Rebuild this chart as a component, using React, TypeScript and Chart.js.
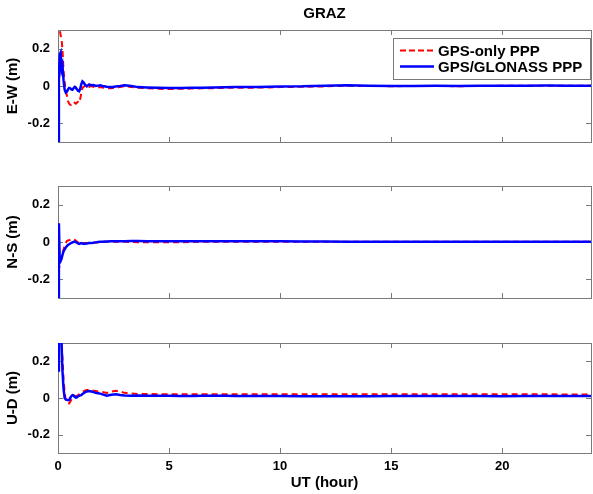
import React, { useEffect, useRef } from "react";
import { Chart, registerables } from "chart.js";

Chart.register(...registerables);

// ---------- data ----------
const T = [
  0, 0.04, 0.08, 0.12, 0.16, 0.2, 0.25, 0.3, 0.35, 0.4, 0.45, 0.5, 0.55, 0.6, 0.65, 0.7, 0.75, 0.8, 0.85, 0.9,
  0.95, 1.0, 1.05, 1.1, 1.15, 1.2, 1.3, 1.4, 1.5, 1.6, 1.7, 1.8, 1.9, 2.0, 2.2, 2.4, 2.6, 2.8, 3.0, 3.3,
  3.6, 4.0, 4.5, 5, 5.5, 6, 6.5, 7, 7.5, 8, 8.5, 9, 9.5, 10, 11, 12, 13, 14, 15, 16,
  17, 18, 19, 20, 21, 22, 23, 24,
];

const ewGps = [
  0.4, 0.35, 0.3, 0.27, 0.25, 0.2, 0.08, 0.02, -0.03, -0.05, -0.08, -0.095, -0.1, -0.1, -0.095, -0.1, -0.09, -0.095, -0.09, -0.085,
  -0.09, -0.07, -0.035, -0.01, -0.005, 0.0, 0.005, -0.005, 0.0, -0.005, -0.01, -0.008, -0.005, -0.008, -0.012, -0.012, -0.008, -0.005, 0.0, -0.005,
  -0.01, -0.012, -0.015, -0.016, -0.015, -0.014, -0.012, -0.012, -0.01, -0.01, -0.01, -0.008, -0.008, -0.006, -0.004, -0.002, 0.002, 0.0, -0.001, 0.0,
  0.0, -0.001, 0.0, 0.001, 0.002, 0.002, 0.001, 0.001,
];
const ewGlo = [
  -0.5, 0.05, 0.17, 0.18, 0.09, 0.11, 0.03, -0.02, -0.035, -0.03, -0.018, -0.01, -0.012, -0.018, -0.02, -0.012, -0.005, -0.008, -0.018, -0.025,
  -0.028, -0.015, 0.01, 0.025, 0.02, 0.01, -0.002, 0.008, 0.004, 0.005, 0.0, 0.002, 0.004, 0.0, -0.004, -0.006, -0.003, 0.0, 0.004, 0.0,
  -0.006, -0.008, -0.01, -0.011, -0.011, -0.01, -0.009, -0.008, -0.007, -0.006, -0.006, -0.005, -0.004, -0.003, -0.002, 0.002, 0.004, 0.001, 0.0, 0.0,
  0.001, 0.0, 0.001, 0.002, 0.002, 0.003, 0.002, 0.002,
];

const nsGps = [
  -0.12, -0.14, -0.13, -0.1, -0.08, -0.06, -0.04, -0.02, -0.005, 0.005, 0.008, 0.01, 0.012, 0.015, 0.016, 0.015, 0.012, 0.008, 0.002, -0.002,
  -0.004, -0.005, -0.005, -0.005, -0.005, -0.005, -0.006, -0.005, -0.005, -0.004, -0.003, -0.002, 0.0, 0.001, 0.002, 0.002, 0.002, 0.002, 0.001, 0.0,
  -0.001, -0.002, -0.002, -0.002, -0.001, 0.0, 0.001, 0.001, 0.001, 0.001, 0.001, 0.001, 0.002, 0.002, 0.002, 0.001, 0.001, 0.001, 0.001, 0.001,
  0.001, 0.001, 0.001, 0.001, 0.001, 0.001, 0.001, 0.001,
];
const nsGlo = [
  -0.5, 0.1, -0.11, -0.1, -0.09, -0.07, -0.05, -0.04, -0.03, -0.022, -0.016, -0.012, -0.008, -0.005, -0.002, 0.0, 0.002, 0.0, -0.004, -0.008,
  -0.01, -0.008, -0.006, -0.008, -0.01, -0.01, -0.008, -0.006, -0.006, -0.004, -0.002, 0.0, 0.001, 0.002, 0.003, 0.004, 0.004, 0.004, 0.004, 0.005,
  0.005, 0.004, 0.004, 0.004, 0.004, 0.004, 0.004, 0.004, 0.004, 0.004, 0.004, 0.004, 0.004, 0.004, 0.003, 0.003, 0.002, 0.002, 0.002, 0.002,
  0.002, 0.002, 0.002, 0.002, 0.002, 0.002, 0.002, 0.002,
];

const udGps = [
  0.45, 0.45, 0.42, 0.38, 0.32, 0.22, 0.1, 0.03, -0.01, -0.02, -0.03, -0.03, -0.02, -0.01, 0.0, 0.008, 0.01, 0.01, 0.012, 0.015,
  0.02, 0.024, 0.028, 0.032, 0.036, 0.04, 0.044, 0.045, 0.042, 0.04, 0.038, 0.036, 0.035, 0.033, 0.028, 0.035, 0.04, 0.035, 0.028, 0.024,
  0.022, 0.022, 0.021, 0.02, 0.021, 0.02, 0.02, 0.021, 0.02, 0.02, 0.021, 0.02, 0.02, 0.02, 0.02, 0.021, 0.02, 0.02, 0.021, 0.02,
  0.021, 0.02, 0.02, 0.021, 0.02, 0.02, 0.019, 0.019,
];
const udGlo = [
  0.15, 0.4, 0.45, 0.4, 0.3, 0.15, 0.05, 0.0, -0.008, -0.01, -0.012, -0.01, 0.0, 0.01, 0.016, 0.014, 0.006, 0.002, 0.004, 0.008,
  0.012, 0.014, 0.016, 0.022, 0.026, 0.03, 0.036, 0.038, 0.035, 0.032, 0.028, 0.026, 0.024, 0.02, 0.012, 0.018, 0.02, 0.016, 0.014, 0.012,
  0.013, 0.012, 0.012, 0.012, 0.011, 0.011, 0.012, 0.012, 0.012, 0.011, 0.011, 0.011, 0.011, 0.011, 0.01, 0.01, 0.01, 0.01, 0.011, 0.011,
  0.011, 0.011, 0.011, 0.01, 0.011, 0.011, 0.011, 0.011,
];

const xTicks = [0, 5, 10, 15, 20];
const yTicks = [-0.2, 0, 0.2];
const seriesNames = ["GPS-only PPP", "GPS/GLONASS PPP"];
const titleText = "GRAZ";
const xTitle = "UT (hour)";

// ---------- styling ----------
const FONT = '"Liberation Sans", Arial, Helvetica, sans-serif';
const RED = "#ff0000";
const BLUE = "#0000ff";
const FRAME = "#7a7a7a";
const W = 593;

const framePlugin = {
  id: "matlabFrame",
  beforeDatasetsDraw(chart: any) {
    const { ctx, chartArea: a, scales } = chart;
    ctx.save();
    ctx.strokeStyle = FRAME;
    ctx.lineWidth = 1;
    ctx.strokeRect(Math.round(a.left) + 0.5, Math.round(a.top) + 0.5, Math.round(a.right - a.left), Math.round(a.bottom - a.top));
    const tl = 5;
    ctx.beginPath();
    for (const v of xTicks) {
      const x = Math.round(scales.x.getPixelForValue(v)) + 0.5;
      ctx.moveTo(x, a.bottom);
      ctx.lineTo(x, a.bottom - tl);
      ctx.moveTo(x, a.top);
      ctx.lineTo(x, a.top + tl);
    }
    for (const v of yTicks) {
      const y = Math.round(scales.y.getPixelForValue(v)) + 0.5;
      ctx.moveTo(a.left, y);
      ctx.lineTo(a.left + tl, y);
      ctx.moveTo(a.right, y);
      ctx.lineTo(a.right - tl, y);
    }
    ctx.stroke();
    ctx.restore();
  },
};

const legendPlugin = {
  id: "matlabLegend",
  afterDatasetsDraw(chart: any) {
    if (!chart.options.plugins.matlabLegend?.show) return;
    const { ctx, chartArea: a } = chart;
    const right = Math.round(a.right) - 1;
    const left = right - 197;
    const top = Math.round(a.top) + 8;
    const h = 41;
    ctx.save();
    ctx.fillStyle = "#fff";
    ctx.fillRect(left, top, right - left, h);
    ctx.strokeStyle = FRAME;
    ctx.lineWidth = 1;
    ctx.strokeRect(left + 0.5, top + 0.5, right - left, h);
    const rows = [
      { y: top + 12.5, color: RED, dash: [6, 3], lw: 2 },
      { y: top + 28.5, color: BLUE, dash: [], lw: 2.5 },
    ];
    ctx.font = `bold 15px ${FONT}`;
    ctx.textBaseline = "middle";
    ctx.textAlign = "left";
    rows.forEach((r, i) => {
      ctx.beginPath();
      ctx.setLineDash(r.dash);
      ctx.strokeStyle = r.color;
      ctx.lineWidth = r.lw;
      ctx.moveTo(left + 7, r.y);
      ctx.lineTo(left + 41, r.y);
      ctx.stroke();
      ctx.setLineDash([]);
      ctx.fillStyle = "#000";
      ctx.fillText(seriesNames[i], left + 45, r.y + 1);
    });
    ctx.restore();
  },
};

type PanelProps = {
  top: number;
  height: number;
  padTop: number;
  padBottom: number;
  gps: number[];
  glo: number[];
  ylabel: string;
  first?: boolean;
  last?: boolean;
};

function Panel({ top, height, padTop, padBottom, gps, glo, ylabel, first, last }: PanelProps) {
  const ref = useRef<HTMLCanvasElement>(null);
  useEffect(() => {
    if (!ref.current) return;
    const tickFont = { family: FONT, size: 13, weight: "bold" as const };
    const titleFont = { family: FONT, size: 15, weight: "bold" as const };
    const chart = new Chart(ref.current, {
      type: "line",
      data: {
        datasets: [
          {
            label: seriesNames[0],
            data: T.map((t, i) => ({ x: t, y: gps[i] })),
            borderColor: RED,
            backgroundColor: RED,
            borderWidth: 2,
            borderDash: [6, 4],
            pointRadius: 0,
            tension: 0,
            fill: false,
            clip: 0,
            order: 1,
          },
          {
            label: seriesNames[1],
            data: T.map((t, i) => ({ x: t, y: glo[i] })),
            borderColor: BLUE,
            backgroundColor: BLUE,
            borderWidth: 2.5,
            pointRadius: 0,
            tension: 0,
            fill: false,
            clip: 0,
            order: 0,
          },
        ],
      },
      options: {
        animation: false,
        responsive: false,
        maintainAspectRatio: false,
        events: [],
        layout: { padding: { left: 0, right: 2, top: padTop, bottom: padBottom } },
        plugins: {
          legend: { display: false },
          tooltip: { enabled: false },
          title: first
            ? {
                display: true,
                text: titleText,
                fullSize: false,
                color: "#000",
                font: titleFont,
                padding: { top: 5, bottom: 7 },
              }
            : { display: false },
          // @ts-ignore
          matlabLegend: { show: !!first },
        },
        scales: {
          x: {
            type: "linear",
            min: 0,
            max: 24,
            display: !!last,
            afterBuildTicks: (s: any) => {
              s.ticks = xTicks.map((v) => ({ value: v }));
            },
            afterFit: (s: any) => {
              s.height = last ? 41 : 0;
            },
            grid: { display: false, drawTicks: false, tickLength: 0 },
            border: { display: false },
            ticks: {
              color: "#000",
              font: tickFont,
              padding: 6,
              maxRotation: 0,
              autoSkip: false,
              callback: (v: any) => String(v),
            },
            title: {
              display: true,
              text: xTitle,
              color: "#000",
              font: titleFont,
              padding: { top: 0, bottom: 2 },
            },
          },
          y: {
            type: "linear",
            min: -0.3,
            max: 0.3,
            afterBuildTicks: (s: any) => {
              s.ticks = yTicks.map((v) => ({ value: v }));
            },
            afterFit: (s: any) => {
              s.width = 58;
            },
            grid: { display: false, drawTicks: false, tickLength: 0 },
            border: { display: false },
            ticks: {
              color: "#000",
              font: tickFont,
              padding: 8,
              callback: (v: any) => (Math.abs(v) < 1e-9 ? "0" : Number(v).toFixed(1)),
            },
            title: {
              display: true,
              text: ylabel,
              color: "#000",
              font: titleFont,
              padding: { top: 4, bottom: 4 },
            },
          },
        },
      },
      plugins: [framePlugin, legendPlugin],
    } as any);
    return () => chart.destroy();
  }, []);
  return (
    <canvas
      ref={ref}
      width={W}
      height={height}
      style={{ position: "absolute", left: 0, top, width: W, height, display: "block" }}
    />
  );
}

export default function App() {
  return (
    <div style={{ position: "fixed", left: 0, top: 0, width: W, height: 494, background: "#fff", overflow: "hidden" }}>
      <Panel top={0} height={160} padTop={0} padBottom={18} gps={ewGps} glo={ewGlo} ylabel="E-W (m)" first />
      <Panel top={160} height={160} padTop={26} padBottom={22} gps={nsGps} glo={nsGlo} ylabel="N-S (m)" />
      <Panel top={320} height={174} padTop={23} padBottom={0} gps={udGps} glo={udGlo} ylabel="U-D (m)" last />
    </div>
  );
}
